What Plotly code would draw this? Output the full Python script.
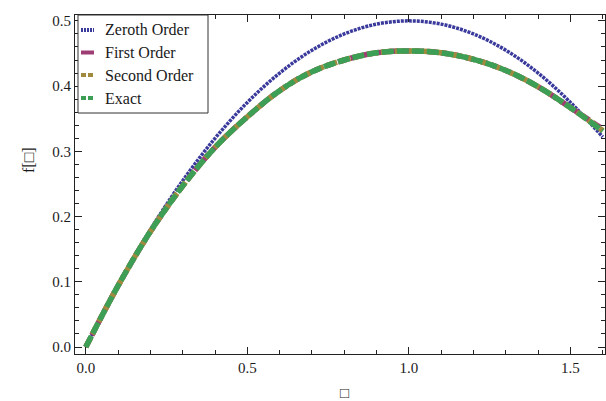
import plotly.graph_objects as go

x_vals = [0.0, 0.1, 0.2, 0.3, 0.4, 0.5, 0.6, 0.7, 0.8, 0.9, 1.0, 1.1, 1.2, 1.3, 1.4, 1.5, 1.6]
zeroth = [0.0, 0.095, 0.180, 0.255, 0.320, 0.375, 0.420, 0.455, 0.480, 0.495, 0.500, 0.495, 0.480, 0.455, 0.420, 0.375, 0.322]
first = [0.0, 0.094, 0.177, 0.247, 0.306, 0.353, 0.393, 0.422, 0.440, 0.451, 0.454, 0.451, 0.441, 0.424, 0.399, 0.367, 0.334]
second = [0.0, 0.094, 0.177, 0.247, 0.306, 0.353, 0.393, 0.422, 0.440, 0.451, 0.454, 0.451, 0.441, 0.424, 0.399, 0.367, 0.332]
exact = [0.0, 0.094, 0.177, 0.247, 0.306, 0.353, 0.393, 0.422, 0.440, 0.451, 0.454, 0.451, 0.441, 0.424, 0.399, 0.367, 0.331]
names = ["Zeroth Order", "First Order", "Second Order", "Exact"]
colors = ["#3a3a9c", "#9e3d74", "#a08a3d", "#3d9e55"]
dashes = ["3px,1px", "9px,4px", "11px,3px", "12px,3px"]
widths = [3.5, 5.5, 5.5, 5.5]
series = [zeroth, first, second, exact]

FONT = "'Liberation Serif', 'Times New Roman', serif"

# plot area in pixels (page coords)
L, R, T, B = 75, 605, 15, 354
W, H = R - L, B - T
def px(p):
    return (p - L) / W
def py(p):
    return (B - p) / H

fig = go.Figure()
for name, ys, c, d, w in zip(names, series, colors, dashes, widths):
    fig.add_trace(go.Scatter(x=x_vals, y=ys, name=name, mode="lines", showlegend=False,
                             line=dict(color=c, width=w, dash=d, shape="spline")))

axis_common = dict(
    showline=True, linecolor="#222", linewidth=1.2, mirror="ticks",
    ticks="inside", ticklen=7, tickwidth=1, tickcolor="#222",
    showgrid=False, zeroline=False, automargin=False,
    tickfont=dict(family=FONT, size=15, color="#1a1a1a"),
)

fig.update_xaxes(range=[-0.0334, 1.607], tickvals=[0.0, 0.5, 1.0, 1.5],
                 ticktext=["0.0", "0.5", "1.0", "1.5"],
                 minor=dict(dtick=0.1, tick0=0, ticks="inside", ticklen=4, tickcolor="#222"),
                 **axis_common)
fig.update_yaxes(range=[-0.0107, 0.509], tickvals=[0.0, 0.1, 0.2, 0.3, 0.4, 0.5],
                 ticktext=["0.0", "0.1", "0.2", "0.3", "0.4", "0.5"],
                 minor=dict(dtick=0.02, tick0=0, ticks="inside", ticklen=4, tickcolor="#222"),
                 **axis_common)

# custom legend (box, sample lines, labels)
shapes = [dict(type="rect", xref="paper", yref="paper",
               x0=px(78), x1=px(208), y0=py(113), y1=py(15),
               line=dict(color="#333", width=1), fillcolor="white", layer="above")]
annotations = []
entry_y = [30, 52.5, 75, 98]
for name, c, d, ey in zip(names, colors, dashes, entry_y):
    shapes.append(dict(type="line", xref="paper", yref="paper",
                       x0=px(81), x1=px(94), y0=py(ey), y1=py(ey),
                       line=dict(color=c, width=4, dash="solid" if d == dashes[1] else ("2px,1px" if d == dashes[0] else "5px,2px")),
                       layer="above"))
    annotations.append(dict(text=name, xref="paper", yref="paper", x=px(103), y=py(ey),
                            xanchor="left", yanchor="middle", showarrow=False,
                            font=dict(family=FONT, size=16, color="#1a1a1a")))

annotations += [
    dict(text="\u25a1", xref="paper", yref="paper", x=px(344), y=py(393),
         xanchor="center", yanchor="middle", showarrow=False,
         font=dict(family=FONT, size=15, color="#1a1a1a")),
    dict(text="f[\u25a1]", xref="paper", yref="paper", x=px(28), y=py(160),
         xanchor="center", yanchor="middle", textangle=-90, showarrow=False,
         font=dict(family=FONT, size=16, color="#1a1a1a")),
]

fig.update_layout(
    template="none",
    width=606, height=401,
    margin=dict(l=L, r=606 - R, t=T, b=401 - B, autoexpand=False),
    paper_bgcolor="white", plot_bgcolor="white",
    font=dict(family=FONT, color="#1a1a1a"),
    showlegend=False,
    shapes=shapes,
    annotations=annotations,
)

fig.write_html("out.html", config={"displayModeBar": False},
               post_script="document.body.style.margin='0';document.body.style.padding='0';")
